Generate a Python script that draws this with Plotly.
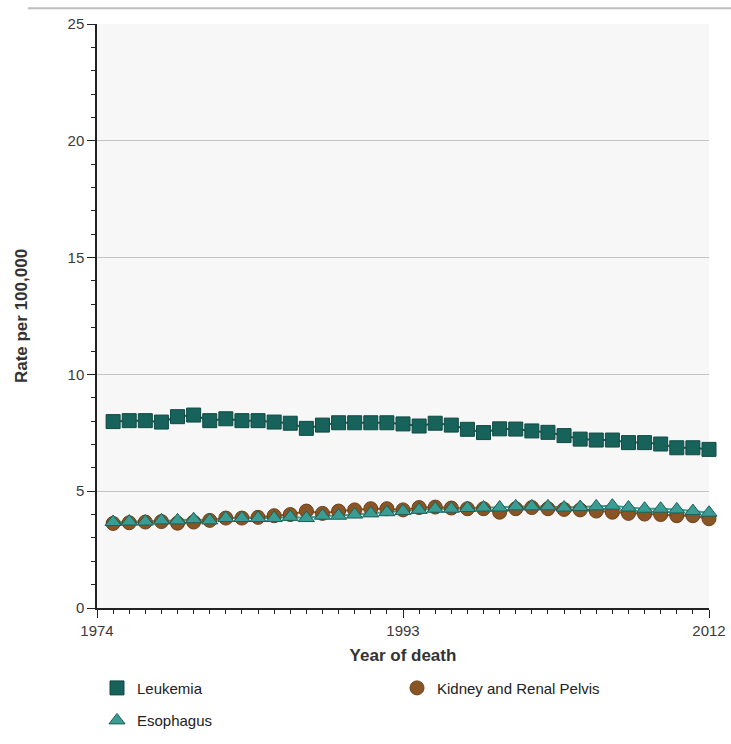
import plotly.graph_objects as go

years = list(range(1975, 2013))

leukemia = [7.98, 8.02, 8.02, 7.96, 8.19, 8.26, 8.02, 8.10, 8.02, 8.02,
            7.96, 7.91, 7.69, 7.83, 7.93, 7.93, 7.93, 7.93, 7.88, 7.79,
            7.91, 7.83, 7.65, 7.51, 7.67, 7.66, 7.58, 7.52, 7.38, 7.23,
            7.19, 7.19, 7.08, 7.08, 7.02, 6.86, 6.86, 6.79]

kidney = [3.62, 3.65, 3.68, 3.70, 3.63, 3.68, 3.75, 3.85, 3.85, 3.88,
          3.95, 4.00, 4.15, 4.05, 4.15, 4.20, 4.25, 4.25, 4.20, 4.30,
          4.32, 4.28, 4.25, 4.25, 4.10, 4.25, 4.30, 4.25, 4.22, 4.20,
          4.15, 4.10, 4.05, 4.02, 4.00, 3.95, 3.95, 3.82]

esophagus = [3.68, 3.70, 3.70, 3.75, 3.75, 3.80, 3.75, 3.85, 3.85, 3.85,
             3.85, 3.90, 3.85, 3.95, 3.95, 4.00, 4.05, 4.10, 4.15, 4.20,
             4.25, 4.25, 4.28, 4.30, 4.30, 4.35, 4.35, 4.35, 4.30, 4.32,
             4.35, 4.38, 4.30, 4.25, 4.25, 4.22, 4.15, 4.08]

x_tickvals = [1974, 1993, 2012]
y_tickvals = [0, 5, 10, 15, 20, 25]

FONT = "Liberation Sans, Arial, sans-serif"

series = [
    ("Leukemia", leukemia, "square", "#17625a", "#0f4a43", 14),
    ("Kidney and Renal Pelvis", kidney, "circle", "#8a5524", "#6b4019", 14),
    ("Esophagus", esophagus, "triangle-up", "#3a9d93", "#1d5f58", 14),
]

fig = go.Figure()
for name, vals, sym, col, edge, size in series:
    fig.add_trace(go.Scatter(
        x=years, y=vals, name=name, mode="lines",
        line=dict(color=col, width=2),
        cliponaxis=False, showlegend=False, legendgroup=name, hoverinfo="skip"))
for name, vals, sym, col, edge, size in series:
    fig.add_trace(go.Scatter(
        x=years, y=vals, name=name, mode="markers",
        marker=dict(symbol=sym, size=size, color=col, line=dict(color=edge, width=1)),
        cliponaxis=False, showlegend=True, legendgroup=name))

fig.add_shape(type="line", xref="paper", yref="paper",
              x0=-0.113, x1=1.04, y0=1.027, y1=1.027,
              line=dict(color="#bdbdbd", width=2))

fig.update_layout(
    width=731, height=744,
    margin=dict(l=97, r=22, t=24, b=136, autoexpand=False),
    paper_bgcolor="white", plot_bgcolor="#f7f7f7",
    font=dict(family=FONT, size=15, color="#3a3a3a"),
    showlegend=True,
    legend=dict(orientation="h", x=0.0, y=-0.109, xanchor="left", yanchor="top",
                entrywidth=255, entrywidthmode="pixels",
                font=dict(family=FONT, size=15, color="#222222"),
                itemclick=False, itemdoubleclick=False),
    xaxis=dict(range=[1974, 2012], tickmode="array", tickvals=x_tickvals,
               ticktext=[str(v) for v in x_tickvals], automargin=False,
               ticks="outside", ticklen=8, tickcolor="#222222",
               showline=True, linecolor="#222222", linewidth=1.5,
               showgrid=False, zeroline=False,
               minor=dict(tickmode="linear", tick0=1974, dtick=1, ticks="outside",
                          ticklen=4, tickcolor="#222222", showgrid=False),
               title=dict(text="<b>Year of death</b>", standoff=11,
                          font=dict(family=FONT, size=17, color="#333333"))),
    yaxis=dict(range=[0, 25], tickmode="array", tickvals=y_tickvals, automargin=False,
               ticks="outside", ticklen=8, tickcolor="#222222",
               showline=True, linecolor="#222222", linewidth=1.5,
               showgrid=True, gridcolor="#c4c4c4", gridwidth=1,
               zeroline=False,
               minor=dict(tickmode="linear", tick0=0, dtick=1, ticks="outside",
                          ticklen=4, tickcolor="#222222", showgrid=False),
               title=dict(text="<b>Rate per 100,000</b>", standoff=36,
                          font=dict(family=FONT, size=17, color="#333333"))),
)

fig.write_html("out.html", config={"displayModeBar": False},
               post_script="document.body.style.margin='0';document.body.style.overflow='hidden';")
